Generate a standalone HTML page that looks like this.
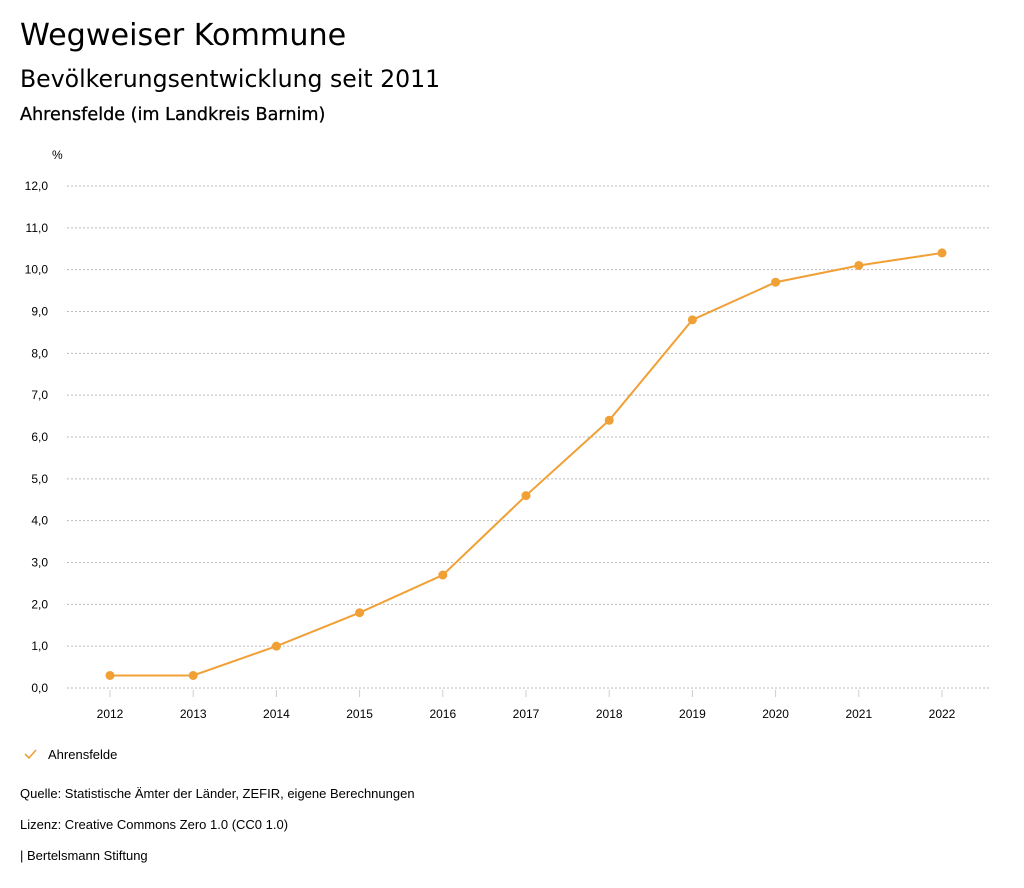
<!DOCTYPE html>
<html><head><meta charset="utf-8"><style>
body{margin:0;background:#fff;width:1024px;height:888px;overflow:hidden;font-family:"Liberation Sans","DejaVu Sans",sans-serif;color:#000}
.t{position:absolute;left:20px;white-space:nowrap}
</style></head><body>
<div class="t" style="top:18px;font-size:30.2px;font-family:'DejaVu Sans',sans-serif">Wegweiser Kommune</div>
<div class="t" style="top:65px;font-size:23.6px;font-family:'DejaVu Sans',sans-serif">Bevölkerungsentwicklung seit 2011</div>
<div class="t" style="top:105px;font-size:17.6px;font-family:'DejaVu Sans',sans-serif;-webkit-text-stroke:0.3px #000">Ahrensfelde (im Landkreis Barnim)</div>
<svg id="chart" width="1024" height="888" style="position:absolute;left:0;top:0" font-family="Liberation Sans, sans-serif" font-size="12"></svg>
<div class="t" style="top:786px;font-size:13px">Quelle: Statistische Ämter der Länder, ZEFIR, eigene Berechnungen</div>
<div class="t" style="top:817px;font-size:13px">Lizenz: Creative Commons Zero 1.0 (CC0 1.0)</div>
<div class="t" style="top:848px;font-size:13px">| Bertelsmann Stiftung</div>
<script>
const years=[2012,2013,2014,2015,2016,2017,2018,2019,2020,2021,2022];
const values=[0.3,0.3,1.0,1.8,2.7,4.6,6.4,8.8,9.7,10.1,10.4];
const yTicks=[0,1,2,3,4,5,6,7,8,9,10,11,12];
const seriesName="Ahrensfelde";
const svg=document.getElementById('chart');
const NS='http://www.w3.org/2000/svg';
const x=i=>110+(942-110)*i/(years.length-1);
const y=v=>688-(688-186)*v/12;
function mk(t,a){const e=document.createElementNS(NS,t);for(const k in a)e.setAttribute(k,a[k]);svg.appendChild(e);return e;}
const pu=mk('text',{x:52,y:159,'font-size':12});pu.textContent='%';


yTicks.forEach(v=>{
 const g=mk('line',{x1:67,x2:990,y1:y(v),y2:y(v),stroke:'#bbb','stroke-dasharray':'2,2','stroke-width':1});
 
 
 const t=mk('text',{x:48,y:y(v)+4,'text-anchor':'end'});t.textContent=v.toFixed(1).replace('.',',');
 
 
});
years.forEach((yr,i)=>{
 const tk=mk('line',{x1:x(i),x2:x(i),y1:690,y2:697,stroke:'#ccc'});
 
 
 const t=mk('text',{x:x(i),y:718,'text-anchor':'middle'});t.textContent=yr;
 
 
});
const pl=mk('polyline',{points:values.map((v,i)=>x(i)+','+y(v)).join(' '),fill:'none',stroke:'#f0a035','stroke-width':2});


values.forEach((v,i)=>{
 const c=mk('circle',{cx:x(i),cy:y(v),r:4.5,fill:'#f0a035'});
 
 
});
const ck=mk('polyline',{points:'25,754 29,758 36,750',fill:'none',stroke:'#f0a035','stroke-width':1.6});


const lt=mk('text',{x:48,y:759,'font-size':13});lt.textContent=seriesName;


</script>
</body></html>
